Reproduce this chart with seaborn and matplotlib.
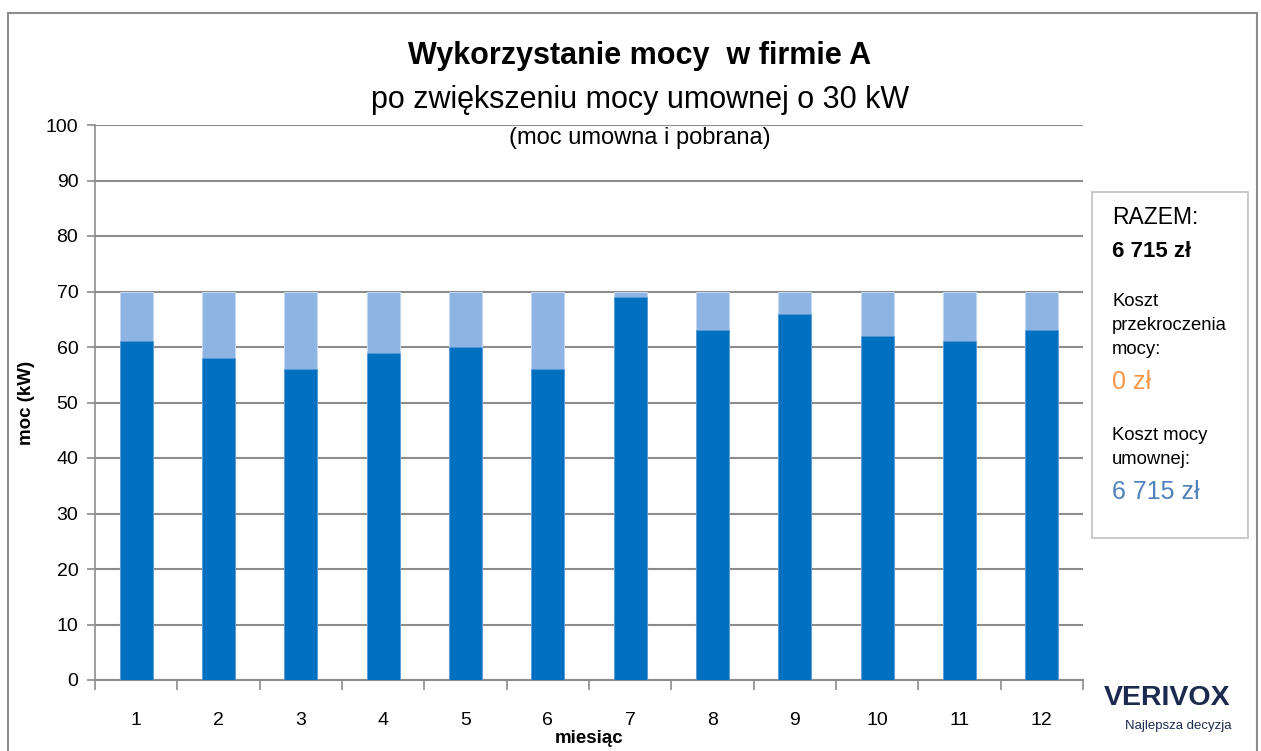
import matplotlib
matplotlib.use("Agg")
import matplotlib.pyplot as plt
import seaborn as sns
import pandas as pd
from matplotlib.patches import Rectangle

months = ["1", "2", "3", "4", "5", "6", "7", "8", "9", "10", "11", "12"]
contracted = [70, 70, 70, 70, 70, 70, 70, 70, 70, 70, 70, 70]
used = [61, 58, 56, 59, 60, 56, 69, 63, 66, 62, 61, 63]
yticks = [0, 10, 20, 30, 40, 50, 60, 70, 80, 90, 100]

title = "Wykorzystanie mocy  w firmie A"
subtitle = "po zwiększeniu mocy umownej o 30 kW"
subsub = "(moc umowna i pobrana)"

sns.set_theme(style="white")
plt.rcParams['font.family'] = ['Liberation Sans', 'DejaVu Sans']
plt.rcParams['text.color'] = 'black'
plt.rcParams['axes.labelcolor'] = 'black'
plt.rcParams['xtick.color'] = 'black'
plt.rcParams['ytick.color'] = 'black'

W, H = 1261, 751
fig = plt.figure(figsize=(W / 100, H / 100), dpi=100)
ax = fig.add_axes([95 / W, 1 - 680 / H, (1083 - 95) / W, (680 - 125) / H])

df = pd.DataFrame({"miesiac": months, "umowna": contracted, "pobrana": used})
sns.barplot(data=df, x="miesiac", y="umowna", color="#8eb4e3", width=0.4,
            saturation=1, ax=ax, edgecolor="#c5d7ee", linewidth=0.8, zorder=2)
sns.barplot(data=df, x="miesiac", y="pobrana", color="#0070c0", width=0.4,
            saturation=1, ax=ax, edgecolor="#5b9bd5", linewidth=0.5, zorder=3)

ax.set_ylim(0, 100)
ax.set_xlim(-0.5, 11.5)
ax.set_yticks(yticks)
ax.set_yticklabels([str(v) for v in yticks], fontsize=14)
ax.yaxis.grid(True, color="#8c8c8c", linewidth=1.5, zorder=0)
ax.set_axisbelow(True)
for s in ["top", "right"]:
    ax.spines[s].set_visible(False)
ax.spines["left"].set_color("#8c8c8c")
ax.spines["bottom"].set_color("#8c8c8c")
ax.spines["left"].set_linewidth(1.2)
ax.spines["bottom"].set_linewidth(1.5)

ax.tick_params(axis="y", which="both", left=True, length=6, width=1.2, color="#8c8c8c", pad=6,
               labelcolor="black")
ax.set_xticks(range(12))
ax.set_xticklabels(months, fontsize=14)
ax.tick_params(axis="x", which="major", bottom=False, pad=17, labelcolor="black")
ax.set_xticks([i - 0.5 for i in range(13)], minor=True)
ax.tick_params(axis="x", which="minor", bottom=True, length=7, width=1.2, color="#8c8c8c")

ax.set_ylabel("moc (kW)", fontsize=13.5, fontweight="bold", labelpad=8, color="black")
ax.set_xlabel("miesiąc", fontsize=13.5, fontweight="bold", labelpad=1, color="black")

# chart frame
fig.add_artist(Rectangle((8 / W, -0.05), (1257 - 8) / W, 1 - 13 / H + 0.05,
                         transform=fig.transFigure, fill=False,
                         edgecolor="#8c8c8c", linewidth=1.5))

# titles
cx = 640 / W
fig.text(cx, 1 - 56 / H, title, ha="center", va="center", fontsize=22, fontweight="bold")
fig.text(cx, 1 - 100 / H, subtitle, ha="center", va="center", fontsize=22)
fig.text(cx, 1 - 138 / H, subsub, ha="center", va="center", fontsize=17)

# side box
fig.add_artist(Rectangle((1092 / W, 1 - 538 / H), (1248 - 1092) / W, (538 - 192) / H,
                         transform=fig.transFigure, fill=True, facecolor="white",
                         edgecolor="#bfbfbf", linewidth=1.2))
bx = 1112 / W
fig.text(bx, 1 - 218 / H, "RAZEM:", fontsize=16.5, va="center")
fig.text(bx, 1 - 252 / H, "6 715 zł", fontsize=16, fontweight="bold", va="center")
fig.text(bx, 1 - 302 / H, "Koszt", fontsize=13.3, va="center")
fig.text(bx, 1 - 326 / H, "przekroczenia", fontsize=13.3, va="center")
fig.text(bx, 1 - 350 / H, "mocy:", fontsize=13.3, va="center")
fig.text(bx, 1 - 382 / H, "0 zł", fontsize=18, color="#f79646", va="center")
fig.text(bx, 1 - 436 / H, "Koszt mocy", fontsize=13.3, va="center")
fig.text(bx, 1 - 460 / H, "umownej:", fontsize=13.3, va="center")
fig.text(bx, 1 - 492 / H, "6 715 zł", fontsize=18, color="#4f81bd", va="center")

# logo
fig.text(1167 / W, 1 - 698 / H, "VERIVOX", fontsize=20.5, fontweight="bold",
         color="#1b2a4e", ha="center", va="center")
fig.text(1178 / W, 1 - 726 / H, "Najlepsza decyzja", fontsize=9.5,
         color="#1b2a4e", ha="center", va="center")

fig.savefig("out.png", dpi=100)
